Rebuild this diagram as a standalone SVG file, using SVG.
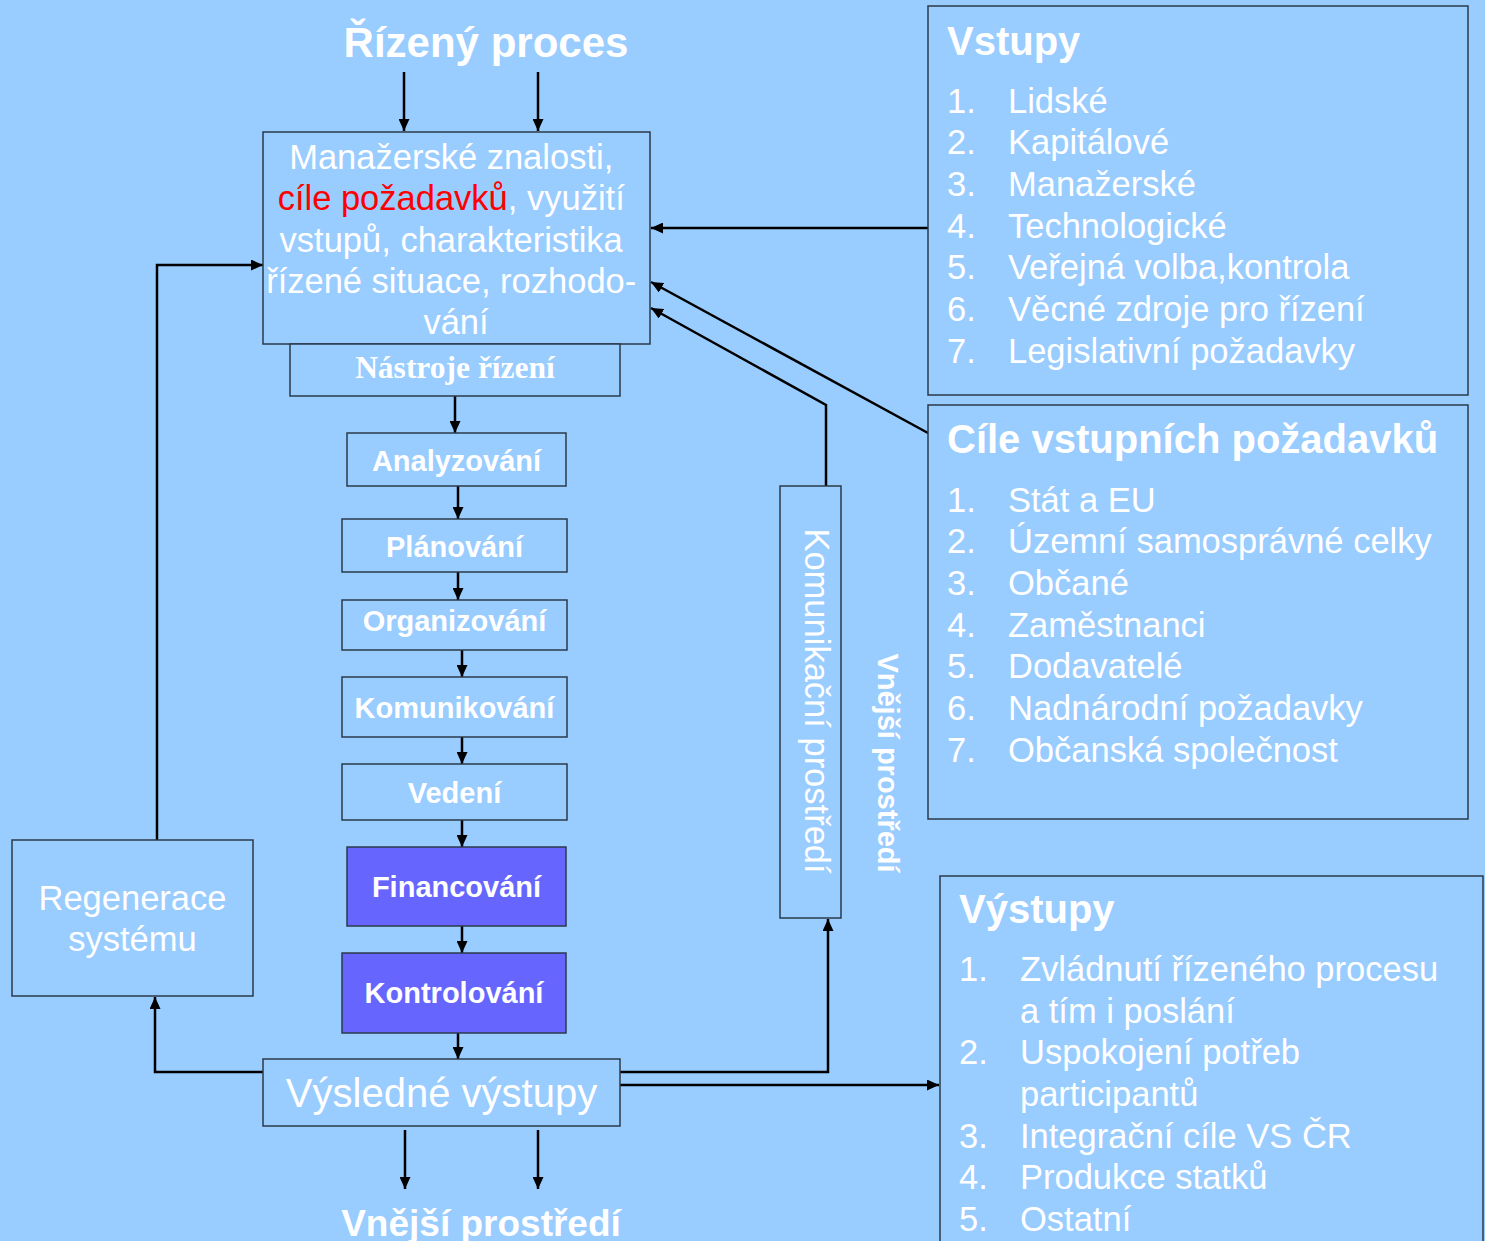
<svg xmlns="http://www.w3.org/2000/svg" width="1485" height="1241" viewBox="0 0 1485 1241">
<defs>
<marker id="ah" markerUnits="userSpaceOnUse" markerWidth="12" markerHeight="11" refX="12" refY="5.5" orient="auto">
<path d="M0,0 L12,5.5 L0,11 z" fill="#000"/>
</marker>
<style>
.box{fill:#99CCFF;stroke:#2B3A4A;stroke-width:1.5}
.dark{fill:#6666FF;stroke:#2B3A4A;stroke-width:1.5}
.t{font-family:"Liberation Sans",Arial,sans-serif;fill:#fff}
.b{font-weight:bold}
.c{text-anchor:middle}
.step{font-family:"Liberation Sans",Arial,sans-serif;fill:#fff;font-weight:bold;font-size:29px;text-anchor:middle}
.li{font-family:"Liberation Sans",Arial,sans-serif;fill:#fff;font-size:34.5px}
.ttl{font-family:"Liberation Sans",Arial,sans-serif;fill:#fff;font-size:40px;font-weight:bold}
.con{fill:none;stroke:#000;stroke-width:2.5}
.arr{marker-end:url(#ah)}
</style>
</defs>
<rect width="1485" height="1241" fill="#99CCFF"/>

<g id="title-top"><text class="t b c" x="486" y="57" font-size="42">Řízený proces</text></g>
<g id="title-bottom"><text class="t b c" x="481" y="1236" font-size="37">Vnější prostředí</text></g>

<g id="connectors">
<path class="con arr" d="M404,72 V131"/>
<path class="con arr" d="M538,72 V131"/>
<path class="con arr" d="M928,228 H651"/>
<path class="con arr" d="M928,433 L651,282"/>
<path class="con arr" d="M826,486 V405 L651,308"/>
<path class="con arr" d="M455,396 V433"/>
<path class="con arr" d="M458,486 V519"/>
<path class="con arr" d="M458,572 V600"/>
<path class="con arr" d="M462,650 V677"/>
<path class="con arr" d="M462,737 V764"/>
<path class="con arr" d="M462,820 V847"/>
<path class="con arr" d="M462,926 V953"/>
<path class="con arr" d="M458,1033 V1059"/>
<path class="con arr" d="M263,1072 H155 V997"/>
<path class="con arr" d="M157,840 V265 H263"/>
<path class="con arr" d="M620,1072 H828 V919"/>
<path class="con arr" d="M620,1085 H939"/>
<path class="con arr" d="M405,1130 V1189"/>
<path class="con arr" d="M538,1130 V1189"/>
</g>

<g id="main">
<rect class="box" x="263" y="132" width="387" height="212"/>
<text class="t c" font-size="34.5">
<tspan x="456" y="169">Manažerské znalosti,</tspan>
<tspan x="456" y="210"><tspan fill="#FF0000">cíle požadavků</tspan>, využití</tspan>
<tspan x="456" y="252">vstupů, charakteristika</tspan>
<tspan x="456" y="293">řízené situace, rozhodo-</tspan>
<tspan x="456" y="334">vání</tspan>
</text>
</g>

<g id="nastroje">
<rect class="box" x="290" y="344" width="330" height="52"/>
<text x="455" y="378" text-anchor="middle" font-family="'Liberation Serif','Times New Roman',serif" font-weight="bold" font-size="31.5" fill="#fff">Nástroje řízení</text>
</g>

<g id="analyzovani"><rect class="box" x="347" y="433" width="219" height="53"/><text class="step" x="456.5" y="471">Analyzování</text></g>
<g id="planovani"><rect class="box" x="342" y="519" width="225" height="53"/><text class="step" x="454.5" y="557">Plánování</text></g>
<g id="organizovani"><rect class="box" x="342" y="600" width="225" height="50"/><text class="step" x="454.5" y="631">Organizování</text></g>
<g id="komunikovani"><rect class="box" x="342" y="677" width="225" height="60"/><text class="step" x="454.5" y="718">Komunikování</text></g>
<g id="vedeni"><rect class="box" x="342" y="764" width="225" height="56"/><text class="step" x="454.5" y="803">Vedení</text></g>
<g id="financovani"><rect class="dark" x="347" y="847" width="219" height="79"/><text class="step" x="456.5" y="897">Financování</text></g>
<g id="kontrolovani"><rect class="dark" x="342" y="953" width="224" height="80"/><text class="step" x="454" y="1003">Kontrolování</text></g>

<g id="vysledne">
<rect class="box" x="263" y="1059" width="357" height="67"/>
<text class="t c" x="441.5" y="1107" font-size="40">Výsledné výstupy</text>
</g>

<g id="regenerace">
<rect class="box" x="12" y="840" width="241" height="156"/>
<text class="t c" font-size="34.5"><tspan x="132.5" y="910">Regenerace</tspan><tspan x="132.5" y="951">systému</tspan></text>
</g>

<g id="komunikacni">
<rect class="box" x="780" y="486" width="61" height="432"/>
<text class="t c" font-size="34.5" transform="translate(805,701) rotate(90)" x="0" y="0">Komunikační prostředí</text>
</g>

<g id="vnejsi-label">
<text class="t b c" font-size="29" transform="translate(878,763) rotate(90)" x="0" y="0">Vnější prostředí</text>
</g>

<g id="vstupy">
<rect class="box" x="928" y="6" width="540" height="389"/>
<text class="ttl" x="947" y="55">Vstupy</text>
<g class="li">
<text x="947" y="113">1.</text><text x="1008" y="113">Lidské</text>
<text x="947" y="154">2.</text><text x="1008" y="154">Kapitálové</text>
<text x="947" y="196">3.</text><text x="1008" y="196">Manažerské</text>
<text x="947" y="238">4.</text><text x="1008" y="238">Technologické</text>
<text x="947" y="279">5.</text><text x="1008" y="279">Veřejná volba,kontrola</text>
<text x="947" y="321">6.</text><text x="1008" y="321">Věcné zdroje pro řízení</text>
<text x="947" y="363">7.</text><text x="1008" y="363">Legislativní požadavky</text>
</g>
</g>

<g id="cile">
<rect class="box" x="928" y="405" width="540" height="414"/>
<text class="ttl" x="947" y="453">Cíle vstupních požadavků</text>
<g class="li">
<text x="947" y="512">1.</text><text x="1008" y="512">Stát a EU</text>
<text x="947" y="553">2.</text><text x="1008" y="553">Územní samosprávné celky</text>
<text x="947" y="595">3.</text><text x="1008" y="595">Občané</text>
<text x="947" y="637">4.</text><text x="1008" y="637">Zaměstnanci</text>
<text x="947" y="678">5.</text><text x="1008" y="678">Dodavatelé</text>
<text x="947" y="720">6.</text><text x="1008" y="720">Nadnárodní požadavky</text>
<text x="947" y="762">7.</text><text x="1008" y="762">Občanská společnost</text>
</g>
</g>

<g id="vystupy">
<rect class="box" x="940" y="876" width="543" height="400"/>
<text class="ttl" x="959" y="923">Výstupy</text>
<g class="li">
<text x="959" y="981">1.</text><text x="1020" y="981">Zvládnutí řízeného procesu</text>
<text x="1020" y="1023">a tím i poslání</text>
<text x="959" y="1064">2.</text><text x="1020" y="1064">Uspokojení potřeb</text>
<text x="1020" y="1106">participantů</text>
<text x="959" y="1148">3.</text><text x="1020" y="1148">Integrační cíle VS ČR</text>
<text x="959" y="1189">4.</text><text x="1020" y="1189">Produkce statků</text>
<text x="959" y="1231">5.</text><text x="1020" y="1231">Ostatní</text>
</g>
</g>
</svg>
